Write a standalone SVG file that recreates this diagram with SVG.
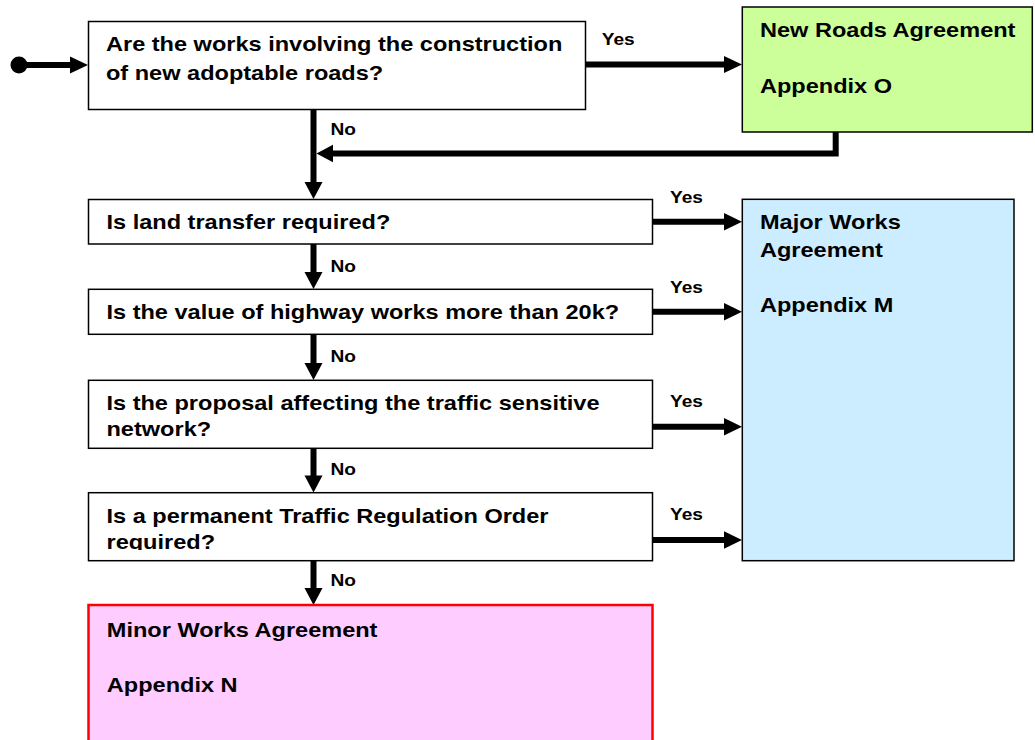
<svg xmlns="http://www.w3.org/2000/svg" width="1035" height="740" viewBox="0 0 1035 740">
<style>
.box{fill:#fff;stroke:#000;stroke-width:1.5}
.t{font-family:"Liberation Sans",Arial,sans-serif;font-weight:bold;font-size:20.3px;fill:#000}
.s{font-family:"Liberation Sans",Arial,sans-serif;font-weight:bold;font-size:16.5px;fill:#000}
.ln{stroke:#000;stroke-width:6;fill:none}
.hd{fill:#000}
</style>
<defs>
<clipPath id="troClip"><rect x="88" y="493" width="565" height="57"/></clipPath>
</defs>
<rect width="1035" height="740" fill="#fff"/>

<g id="connectors">
  <circle cx="19" cy="65" r="8.5" class="hd"/>
  <line x1="19" y1="65" x2="72" y2="65" class="ln"/>
  <polygon points="70,56.5 88,65 70,73.5" class="hd"/>

  <line x1="585" y1="64.5" x2="726" y2="64.5" class="ln"/>
  <polygon points="724,56 742,64.5 724,73" class="hd"/>

  <polyline points="835.7,132 835.7,153.5 331,153.5" class="ln"/>
  <polygon points="333,144.7 316.5,153.5 333,162.3" class="hd"/>

  <line x1="313.5" y1="109.5" x2="313.5" y2="184" class="ln"/>
  <polygon points="304.5,182 313.5,199 322.5,182" class="hd"/>

  <line x1="313.5" y1="244" x2="313.5" y2="274" class="ln"/>
  <polygon points="304.5,272 313.5,289 322.5,272" class="hd"/>

  <line x1="313.5" y1="334" x2="313.5" y2="365" class="ln"/>
  <polygon points="304.5,363 313.5,380 322.5,363" class="hd"/>

  <line x1="313.5" y1="448" x2="313.5" y2="477" class="ln"/>
  <polygon points="304.5,475.5 313.5,492.5 322.5,475.5" class="hd"/>

  <line x1="313.5" y1="561" x2="313.5" y2="590" class="ln"/>
  <polygon points="304.5,588 313.5,605 322.5,588" class="hd"/>

  <line x1="652.5" y1="221.7" x2="726" y2="221.7" class="ln"/>
  <polygon points="724,213 742,221.7 724,230.4" class="hd"/>
  <line x1="652.5" y1="311.7" x2="726" y2="311.7" class="ln"/>
  <polygon points="724,303 742,311.7 724,320.4" class="hd"/>
  <line x1="652.5" y1="426.7" x2="726" y2="426.7" class="ln"/>
  <polygon points="724,418 742,426.7 724,435.4" class="hd"/>
  <line x1="652.5" y1="540" x2="726" y2="540" class="ln"/>
  <polygon points="724,531.3 742,540 724,548.7" class="hd"/>

  <text class="s" transform="translate(601.7,45) scale(1.16,1)">Yes</text>
  <text class="s" transform="translate(330.5,135) scale(1.16,1)">No</text>
  <text class="s" transform="translate(670,203.3) scale(1.16,1)">Yes</text>
  <text class="s" transform="translate(330.5,272) scale(1.16,1)">No</text>
  <text class="s" transform="translate(670,292.5) scale(1.16,1)">Yes</text>
  <text class="s" transform="translate(330.5,362) scale(1.16,1)">No</text>
  <text class="s" transform="translate(670,407) scale(1.16,1)">Yes</text>
  <text class="s" transform="translate(330.5,475) scale(1.16,1)">No</text>
  <text class="s" transform="translate(670,519.5) scale(1.16,1)">Yes</text>
  <text class="s" transform="translate(330.5,586) scale(1.16,1)">No</text>
</g>

<g id="q1">
  <rect x="88.5" y="21.5" width="497" height="88" class="box"/>
  <text class="t" transform="translate(106,50.7) scale(1.16,1)">Are the works involving the construction</text>
  <text class="t" transform="translate(106,79.5) scale(1.16,1)">of new adoptable roads?</text>
</g>

<g id="newRoads">
  <rect x="742.3" y="7" width="290" height="125" fill="#CCFF99" stroke="#000" stroke-width="1.5"/>
  <text class="t" transform="translate(760,36.7) scale(1.16,1)">New Roads Agreement</text>
  <text class="t" transform="translate(760,93.3) scale(1.16,1)">Appendix O</text>
</g>

<g id="q2">
  <rect x="88.5" y="199.5" width="564" height="44.5" class="box"/>
  <text class="t" transform="translate(106.5,229.3) scale(1.16,1)">Is land transfer required?</text>
</g>

<g id="q3">
  <rect x="88.5" y="289.3" width="564" height="45" class="box"/>
  <text class="t" transform="translate(106.5,319) scale(1.16,1)">Is the value of highway works more than 20k?</text>
</g>

<g id="q4">
  <rect x="88.5" y="380.3" width="564" height="68" class="box"/>
  <text class="t" transform="translate(106.5,409.5) scale(1.16,1)">Is the proposal affecting the traffic sensitive</text>
  <text class="t" transform="translate(106.5,436) scale(1.16,1)">network?</text>
</g>

<g id="q5">
  <rect x="88.5" y="492.7" width="564" height="68" class="box"/>
  <g clip-path="url(#troClip)">
    <text class="t" transform="translate(106.5,523.3) scale(1.16,1)">Is a permanent Traffic Regulation Order</text>
    <text class="t" transform="translate(106.5,549.3) scale(1.16,1)">required?</text>
  </g>
</g>

<g id="majorWorks">
  <rect x="742.3" y="199.3" width="271.7" height="361.4" fill="#CCECFF" stroke="#000" stroke-width="1.5"/>
  <text class="t" transform="translate(760,229) scale(1.16,1)">Major Works</text>
  <text class="t" transform="translate(760,256.7) scale(1.16,1)">Agreement</text>
  <text class="t" transform="translate(760,311.7) scale(1.16,1)">Appendix M</text>
</g>

<g id="minorWorks">
  <rect x="88.5" y="605" width="564" height="140" fill="#FFCCFF" stroke="#FF0000" stroke-width="2.5"/>
  <text class="t" transform="translate(106.8,637) scale(1.16,1)">Minor Works Agreement</text>
  <text class="t" transform="translate(106.8,691.7) scale(1.16,1)">Appendix N</text>
</g>
</svg>
